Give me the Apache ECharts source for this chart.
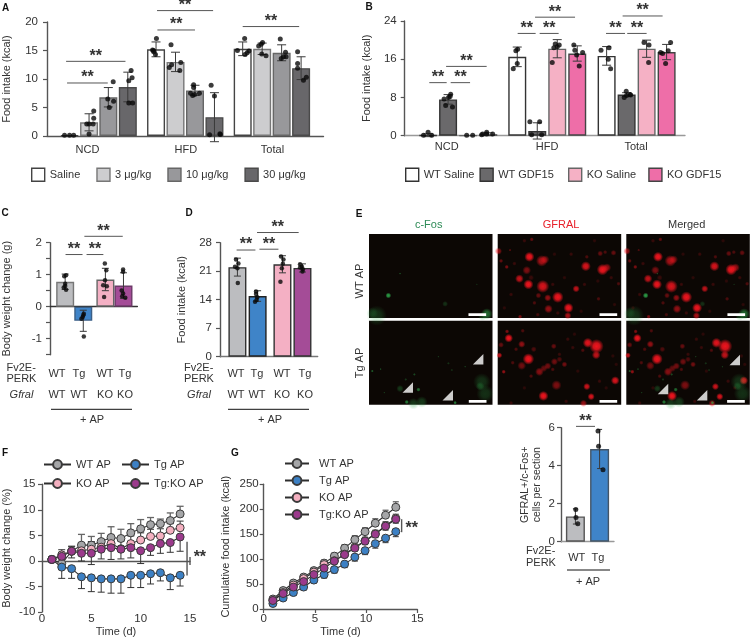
<!DOCTYPE html>
<html><head><meta charset="utf-8"><style>html,body{margin:0;background:#fff}#c{width:750px;height:638px}</style>
<script src="https://cdn.jsdelivr.net/npm/echarts@6/dist/echarts.min.js"></script></head>
<body><div id="c"></div>
<script>
// ---------- Panel A ----------
const aGroups=['NCD','HFD','Total'];
const aNames=['Saline','3 μg/kg','10 μg/kg','30 μg/kg'];
const aMeans=[[0.1,15.2,15.3],[2.4,13,15.3],[6.8,8,14.6],[8.6,3.3,11.9]];
const aSds=[[0,1.3,1.2],[1.5,1.7,1.0],[1.7,0.9,1.4],[2.6,4.3,2]];
const aDots=[
 [[[-.26,.15],[0,.15],[.21,.15]],[[.02,17.1],[-.18,15.1],[-.12,14.8],[-.03,14.3],[-.13,15]],[[.1,17.1],[-.27,15],[.32,14.9],[.23,14.6],[.12,14.3]]],
 [[[.24,4.4],[.24,3.1],[.21,2.1],[-.12,2.1],[0,2.1],[0,.35]],[[-.23,16],[.27,12.9],[-.2,12.5],[-.32,12],[.22,11.5]],[[.02,16.4],[-.05,16.1],[-.18,15.8],[-.02,14.4],[.2,14.1]]],
 [[[.25,9.5],[-.03,6.5],[.27,6.1],[.05,5]],[[-.07,9],[-.07,8.5],[.23,7.5],[-.23,7.5],[-.12,7.1],[-.02,7.3]],[[-.07,17],[.2,14.7],[.1,13.9],[-.02,13.6],[.23,13.9]]],
 [[[.17,11.5],[.22,10.2],[.05,9.7],[.05,5.8],[.25,5.8]],[[-.17,8.9],[0,7],[-.25,.2],[.28,.4],[.3,.25]],[[-.18,14.8],[-.18,12.7],[-.18,11.9],[.27,10.3],[.12,9.8]]]
];
const aBrackets=[[.98,4.03,13.1],[1.03,3.12,9.3],[5.65,8.53,22],[5.67,7.6,18.6],[10.05,12.95,19.2]];
// ---------- Panel B ----------
const bGroups=['NCD','HFD','Total'];
const bNames=['WT Saline','WT GDF15','KO Saline','KO GDF15'];
const bMeans=[[.1,16.5,16.7],[7.6,1,8.6],[.05,18.2,18.2],[.3,17.2,17.5]];
const bSds=[[.3,2.05,1.95],[1,1.7,.4],[0,1.9,1.8],[.3,1.6,1.6]];
const bDots=[
 [[[0,.7],[-.23,.1],[.18,.1]],[[.02,18.1],[-.07,17.8],[0,15.1],[-.2,14]],[[.12,18.4],[-.28,17.9],[.08,16],[.2,14]]],
 [[[.13,8.65],[.1,8.2],[-.2,7.7],[.02,8],[-.12,6.3],[.22,6]],[[-.37,2.9],[.12,2.9],[-.28,.2],[.22,.2]],[[-.02,9.3],[.17,8.6],[0,8.4],[-.12,8],[.2,8.5]]],
 [[[-.07,.1],[.23,.1]],[[-.1,19.2],[.1,19],[-.17,18.4],[0,18.6],[-.25,15.3]],[[-.13,19.5],[.12,19],[.1,15.3]]],
 [[[-.08,.7],[-.28,.35],[.22,.35],[-.08,.35],[-.33,.2]],[[-.17,19],[-.12,17.9],[.27,17.4],[-.03,16.9],[.1,14.6]],[[.2,19.5],[-.3,17.4],[-.2,17.2],[.08,17.8],[-.05,15.1]]]
];
const bBrackets=[[1.23,2.1,11.1],[2.3,3.27,11.1],[2.07,4.1,14.5],[5.65,6.55,21.4],[6.75,7.7,21.4],[6.52,8.52,24.8],[10.07,11.02,21.4],[11.13,12.1,21.4],[10.9,12.9,25.05]];
// ---------- Panel C ----------
const cMeans=[.78,-.44,.85,.66];
const cSds=[.24,.33,.35,.4];
const cDots=[
 [[.05,.98],[-.05,.95],[0,.72],[.05,.53],[-.08,.6],[0,.65]],
 [[.03,-.22],[-.03,-.32],[0,-.27],[-.1,-.38],[.03,-.93]],
 [[-.03,1.35],[.05,1.14],[-.02,.83],[-.12,.67],[.08,.64],[-.07,.3]],
 [[-.02,1.16],[-.02,1.09],[-.1,.51],[-.02,.41],[.1,.28],[-.07,.33]]
];
const cBrackets=[[.85,1.78,1.63],[2,2.92,1.63],[1.88,3.98,2.2]];
// ---------- Panel D ----------
const dMeans=[22,14.9,22.7,21.8];
const dSds=[2.2,1.3,2.1,1];
const dDots=[
 [[-.07,23.9],[.05,22.9],[-.12,22.1],[0,21.7],[.02,18.1]],
 [[-.08,16],[-.08,15.4],[-.02,14.6],[-.13,13.5],[-.05,13.9]],
 [[-.07,24.6],[.05,23.9],[.02,22.8],[-.03,21.7],[-.1,18.4]],
 [[-.12,22.7],[-.03,22.1],[.02,21.5],[0,20.9],[-.12,21.9]]
];
const dBrackets=[[.83,1.77,26.2],[1.97,2.92,26.4],[1.85,3.93,30.5]];
// ---------- Panel E bar ----------
const eMeans=[1.33,4.88];
const eSds=[.4,1.03];
const eDots=[[[.02,1.7],[.03,1.28],[.12,.95]],[[-.08,5.82],[-.05,5.02],[.17,3.79]]];
const eBrackets=[[.75,1.7,6.07]];
// ---------- Panel E micrographs (x,y,size,alpha) ----------
const redRow1=[[95,68,7,1],[132,80,8,.7],[142,76,6,.5],[87,108,6,.5],[65,133,6,.8],[92,150,7,1],[135,156,9,.9],[180,188,8,1],[212,220,7,1],[210,243,5,.7],[152,223,6,.6],[150,190,5,.6],[122,183,4,.4],[264,96,7,.9],[314,106,8,1],[327,100,6,.6],[235,163,5,.8],[347,56,4,.4],[307,58,4,.4],[322,54,3,.3],[2,51,5,.6],[27,98,3,.5],[10,80,3,.4],[102,16,3,.4],[267,68,3,.3],[302,193,3,.3],[362,148,3,.3],[67,246,3,.5],[37,48,2,.3],[50,88,3,.2],[100,130,4,.2],[200,130,3,.15],[260,150,3,.2],[300,140,3,.15],[340,130,3,.2],[170,60,3,.15],[220,60,3,.2],[250,230,3,.15],[120,240,3,.25],[40,180,3,.2],[20,220,3,.15],[290,20,3,.15],[80,20,3,.2],[165,150,3,.2],[350,210,3,.15],[110,205,3,.3],[180,235,3,.2]];
const redRow2=[[33,52,6,1],[28,32,3,.5],[5,103,4,.8],[10,72,4,.4],[72,70,5,.6],[92,114,8,1],[72,134,6,.45],[18,152,3,.6],[55,85,3,.3],[108,85,4,.3],[168,76,4,.4],[270,66,7,.95],[296,76,10,1],[295,102,6,.8],[255,88,3,.3],[352,178,6,.9],[267,196,5,.85],[280,226,5,.9],[257,246,5,.6],[137,224,7,1],[176,192,7,.5],[125,152,6,.55],[138,142,5,.4],[150,135,5,.45],[170,122,5,.45],[185,115,4,.3],[200,130,4,.45],[100,165,3,.3],[45,125,3,.3],[210,55,3,.2],[225,80,3,.2],[230,40,3,.15],[75,30,3,.3],[345,105,3,.15],[355,130,3,.15],[305,180,3,.2],[325,200,3,.15],[40,245,3,.2],[80,200,3,.15],[205,240,3,.2],[165,145,3,.3],[185,100,3,.2],[240,150,3,.15]];
const greenRow1=[[58,183,4,.9],[23,243,14,.25],[10,235,8,.2],[353,238,8,.6],[340,245,6,.3],[228,208,4,.25],[93,118,1.5,.4],[323,150,1.5,.2]];
const greenRow2=[[10,150,2,.5],[35,144,1.5,.4],[136,160,2,.4],[148,205,3,.6],[110,175,2,.3],[93,202,5,.3],[113,242,3,.7],[158,242,8,.3],[133,247,8,.3],[258,244,2.5,.7],[338,182,12,.25],[348,217,12,.25],[333,195,6,.3],[238,127,2,.25],[208,107,1.5,.3],[288,137,1.5,.3],[248,147,2,.2],[46,214,1.5,.3]];
const arrowsRow2=[[116,199],[236,222],[327,115]];
const arrowsMerged=[[110,203],[227,222],[325,117]];
// ---------- Panel F ----------
const lineNames=['WT AP','Tg AP','KO AP','Tg:KO AP'];
const fDays=[1,2,3,4,5,6,7,8,9,10,11,12,13,14];
const fWT=[.3,-.5,1.9,3.1,3.1,3.8,4.6,4.4,5.5,6.3,7.1,7.3,7.9,9.2];
const fTg=[.3,-1.2,-1.5,-3.1,-3.3,-3.5,-3.5,-3.5,-2.8,-2.8,-2.5,-2.3,-3.3,-2.8];
const fKO=[.3,1.2,1.9,2,2.3,2.7,3.4,2.4,3.4,4.1,4.8,4.9,6,6.5];
const fTgKO=[.3,.9,1.9,1.5,1.5,2.3,2.6,2.3,2.6,2,2.6,3.4,3.6,4.7];
const fWTsd=[0,.9,.9,2.1,1.7,1.6,2.1,1.8,1.8,1.8,1.4,.9,1.5,1.5];
const fTgSd=[0,2.2,1.9,2.3,2.7,2.6,2.8,2.8,2.4,2.4,2,1.6,2.3,2.1];
const fKOsd=[0,1,1,1.5,1.5,1.5,1.5,1.5,1.5,1.4,1.4,1.4,1.3,1.3];
const fTgKOsd=[0,1,1.3,1.5,2.2,1.9,2.3,1.9,2,2.5,1.5,1.9,1.9,2.8];
// ---------- Panel G ----------
const gDays=[.9,1.9,2.9,3.9,4.9,5.9,6.9,7.9,8.9,9.9,10.9,11.9,12.9];
const gWT=[20,37,52,64,77,92,106,122,139,155,172,188,204];
const gTg=[11,22,33,44,58,69,79,90,104,117,131,142,155];
const gKO=[17,33,48,61,74,89,97,110,124,137,151,167,182];
const gTgKO=[17,31,44,55,69,82,96,109,122,136,150,166,180];
const gWTsd=[3,4,5,5,5,6,6,7,8,8,9,10,11];
const gTgSd=[5,5,6,6,6,7,7,7,8,8,9,9,10];
const gKOsd=[3,4,4,5,5,5,5,6,6,7,7,8,8];
const gTgKOsd=[3,4,4,5,5,5,6,6,6,7,7,8,8];
// ---------- Colours / fonts ----------
const FONT='"Liberation Sans",Arial,sans-serif';
const INK='#333', AX='#555';
const lineColors=['#a5a6a8','#3c80c4','#f4b0c0','#9b3a8c'];
const STAR='bold 16px '+FONT;

const opt={animation:false,textStyle:{fontFamily:FONT,color:INK},grid:[],xAxis:[],yAxis:[],series:[],legend:[],graphic:[]};
function addGrid(g){opt.grid.push({left:g.left,top:g.top,width:g.width,height:g.height,containLabel:false,show:!!g.bg,backgroundColor:g.bg||'transparent',borderWidth:0});return opt.grid.length-1;}
function yAx(i,c){const o={gridIndex:i,type:'value',min:c.min,max:c.max,interval:c.interval,splitLine:{show:false},
  name:c.name,nameLocation:'middle',nameGap:c.nameGap,nameRotate:90,nameTextStyle:{color:INK,fontSize:c.nameSize||11,fontFamily:FONT,lineHeight:12},
  axisLine:{show:true,onZero:false,lineStyle:{color:AX,width:1.4}},axisTick:{show:true,length:4,lineStyle:{color:AX,width:1.2}},
  axisLabel:{color:INK,fontSize:11.5,margin:c.margin,fontFamily:FONT,formatter:c.fmt||(v=>String(v))}};
  opt.yAxis.push(o);return opt.yAxis.length-1;}

function errSeries(i,ax,data,cfg){cfg=cfg||{};opt.series.push({type:'custom',name:'err',xAxisIndex:ax,yAxisIndex:ax,clip:false,z:cfg.z||3,silent:true,data,
 renderItem(p,api){const x=api.value(0),a=api.coord([x,api.value(1)]),b=api.coord([x,api.value(2)]),w=(cfg.cap||9)/2,st={stroke:cfg.color||'#333',lineWidth:cfg.lw||1,fill:null};
  const kids=[{type:'line',shape:{x1:a[0],y1:a[1],x2:b[0],y2:b[1]},style:st},{type:'line',shape:{x1:b[0]-w,y1:b[1],x2:b[0]+w,y2:b[1]},style:st}];
  if(!cfg.oneSided)kids.push({type:'line',shape:{x1:a[0]-w,y1:a[1],x2:a[0]+w,y2:a[1]},style:st});
  return {type:'group',children:kids};}});}
function bracketSeries(ax,data,color){opt.series.push({type:'custom',name:'bracket',xAxisIndex:ax,yAxisIndex:ax,clip:false,z:5,silent:true,data,
 renderItem(p,api){const a=api.coord([api.value(0),api.value(2)]),b=api.coord([api.value(1),api.value(2)]);
  return {type:'group',children:[{type:'line',shape:{x1:a[0],y1:a[1],x2:b[0],y2:b[1]},style:{stroke:color||'#555',lineWidth:1,fill:null}},
   {type:'text',style:{text:'**',x:(a[0]+b[0])/2,y:a[1]-5,textAlign:'center',textVerticalAlign:'middle',font:STAR,fill:INK}}]};}});}
function sigSeries(ax,segs,star){opt.series.push({type:'custom',name:'sig',xAxisIndex:ax,yAxisIndex:ax,clip:false,z:5,silent:true,data:segs,
 renderItem(p,api){const a=api.coord([api.value(0),api.value(1)]),b=api.coord([api.value(2),api.value(3)]);
  return {type:'line',shape:{x1:a[0],y1:a[1],x2:b[0],y2:b[1]},style:{stroke:'#555',lineWidth:1.4,fill:null}};}});
 opt.series.push({type:'custom',name:'sigStar',xAxisIndex:ax,yAxisIndex:ax,clip:false,z:5,silent:true,data:[star],
 renderItem(p,api){const a=api.coord([api.value(0),api.value(1)]);
  return {type:'text',style:{text:'**',x:a[0],y:a[1]+3,textAlign:'center',textVerticalAlign:'middle',font:STAR,fill:INK}};}});}

function barPanel(c){
 const i=addGrid(c.g),ax=opt.xAxis.length;
 opt.xAxis.push({gridIndex:i,type:'value',min:0,max:c.xMax,splitLine:{show:false},axisTick:{show:false},
  axisLine:{show:true,onZero:true,lineStyle:{color:c.baseColor||AX,width:1.4}},
  axisLabel:c.labels?{show:true,customValues:c.labelPos,margin:c.labelMargin,fontSize:11,color:INK,fontFamily:FONT,
   formatter:v=>{const k=c.labelPos.indexOf(v);return k>=0?c.labels[k]:'';}}:{show:false}});
 yAx(i,c.y);
 const errs=[],dots=[];
 c.names.forEach((n,s)=>{
  opt.series.push({type:'bar',name:n,xAxisIndex:ax,yAxisIndex:ax,barWidth:c.barW||18,barGap:'-100%',z:2,
   itemStyle:{color:c.colors[s],borderColor:c.borders[s],borderWidth:1.4},
   data:c.slots[s].map((x,j)=>[x,c.means[s][j]])});
  c.slots[s].forEach((x,j)=>{const m=c.means[s][j],sd=c.sds[s][j];if(sd>0)errs.push([x,m-sd,m+sd]);
    c.dots[s][j].forEach(d=>dots.push([x+d[0],d[1]]));});
 });
 errSeries(i,ax,errs,{cap:c.cap||9,color:'#3a3a3a'});
 opt.series.push({type:'scatter',name:'dots',xAxisIndex:ax,yAxisIndex:ax,data:dots,symbolSize:c.dot||5,clip:false,z:4,silent:true,itemStyle:{color:'#0a0a0a'}});
 bracketSeries(ax,c.brackets);
 return ax;
}
const wrap=a=>a.map(v=>[v]);
// A
barPanel({g:{left:39.5,top:22,width:284,height:114},xMax:14.2,
 slots:[[1.16,5.6,10.05],[2.16,6.6,11.05],[3.15,7.6,12.05],[4.15,8.6,13.05]],
 labels:aGroups,labelPos:[2.08,7.13,11.58],labelMargin:8,names:aNames,means:aMeans,sds:aSds,dots:aDots,brackets:aBrackets,
 colors:['#ffffff','#cdcdcf','#98989b','#68676a'],borders:['#444','#777','#666','#4a4a4a'],
 y:{min:0,max:20,interval:5,name:'Food intake (kcal)',nameGap:34,margin:9}});
// B
barPanel({g:{left:404.7,top:21,width:280.3,height:114.7},xMax:14.02,
 slots:[[1.17,5.63,10.1],[2.17,6.63,11.1],[3.17,7.63,12.1],[4.18,8.63,13.1]],
 labels:bGroups,labelPos:[2.1,7.12,11.57],labelMargin:6,names:bNames,means:bMeans,sds:bSds,dots:bDots,brackets:bBrackets,baseColor:'#999',
 colors:['#ffffff','#6a696b','#f5b1c5','#ee6ea8'],borders:['#333','#333','#666','#444'],
 y:{min:0,max:24,interval:8,name:'Food intake (kcal)',nameGap:32,margin:8}});
// C
barPanel({g:{left:41.7,top:242.7,width:95.67,height:112},xMax:4.78,
 slots:[[.83],[1.82],[3.03],[4.02]],names:['WT/WT','Tg/WT','WT/KO','Tg/KO'],means:wrap(cMeans),sds:wrap(cSds),dots:wrap(cDots),brackets:cBrackets,baseColor:'#333',cap:7,dot:4.5,
 colors:['#bcbdc0','#3f84c8','#f4b0c4','#a44c97'],borders:['#777','#3b5f86','#666','#6d3a68'],
 y:{min:-1.5,max:2,interval:.5,name:'Body weight change (g)',nameGap:37,margin:8,fmt:v=>Number.isInteger(v)?String(v):''}});
// D
barPanel({g:{left:220,top:242.7,width:97.67,height:114},xMax:4.88,
 slots:[[.87],[1.88],[3.12],[4.12]],names:['WT/WT','Tg/WT','WT/KO','Tg/KO'],means:wrap(dMeans),sds:wrap(dSds),dots:wrap(dDots),brackets:dBrackets,baseColor:'#777',cap:7,dot:4.5,
 colors:['#bcbdc0','#3f84c8','#f4b0c4','#a44c97'],borders:['#333','#222','#333','#333'],
 y:{min:0,max:28,interval:7,name:'Food intake (kcal)',nameGap:32,margin:8}});
// E bars
barPanel({g:{left:561,top:427.7,width:53,height:114},xMax:2.65,barW:19,
 slots:[[.72],[1.93]],names:['WT','Tg'],means:wrap(eMeans),sds:wrap(eSds),dots:wrap(eDots),brackets:eBrackets,baseColor:'#999',cap:5,
 colors:['#bcbdc0','#3f84c8'],borders:['#555','#445566'],
 y:{min:0,max:6,interval:2,name:'GFRAL+/c-Fos+\ncells per section',nameGap:18,nameSize:10.5,margin:6}});

// Micrographs
function soft(rgb){return {type:'radial',x:.5,y:.5,r:.5,colorStops:[{offset:0,color:`rgba(${rgb},1)`},{offset:.45,color:`rgba(${rgb},.85)`},{offset:1,color:`rgba(${rgb},0)`}]};}
function micro(left,top,reds,greens,arrows,bar){
 const i=addGrid({left,top,width:123.5,height:84,bg:'#0c0704'}),ax=opt.xAxis.length;
 opt.xAxis.push({gridIndex:i,type:'value',min:0,max:370,show:false});
 opt.yAxis.push({gridIndex:i,type:'value',min:0,max:250,inverse:true,show:false});
 const blob=(arr,rgb)=>({type:'scatter',name:'blobs',xAxisIndex:ax,yAxisIndex:ax,silent:true,z:2,
   data:arr.map(b=>({value:[b[0],b[1]],symbolSize:b[2]*1.45,itemStyle:{opacity:b[3]}})),
   itemStyle:{color:soft(rgb)}});
 if(reds)opt.series.push(blob(reds,'240,20,30'));
 if(greens)opt.series.push(blob(greens,'45,170,75'));
 opt.series.push({type:'line',name:'scale',xAxisIndex:ax,yAxisIndex:ax,silent:true,z:3,symbol:'none',lineStyle:{color:'#fff',width:2.6},data:[[bar,240],[bar+53,240]]});
 if(arrows)opt.series.push({type:'scatter',name:'arrow',xAxisIndex:ax,yAxisIndex:ax,silent:true,z:4,symbol:'path://M0 10L10 10L10 0Z',symbolSize:10.5,itemStyle:{color:'#fff'},data:arrows});
}
const colX=[369,497.7,626.3],rowY=[234,320.7];
micro(colX[0],rowY[0],null,greenRow1,null,298);
micro(colX[1],rowY[0],redRow1,null,null,305);
micro(colX[2],rowY[0],redRow1,greenRow1,null,303);
micro(colX[0],rowY[1],null,greenRow2,arrowsRow2,299);
micro(colX[1],rowY[1],redRow2,null,null,305);
micro(colX[2],rowY[1],redRow2,greenRow2,arrowsMerged,302);

// F and G line panels
function linePanel(c){
 const i=addGrid(c.g),ax=opt.xAxis.length;
 opt.xAxis.push({gridIndex:i,type:'value',min:0,max:15,interval:5,splitLine:{show:false},name:'Time (d)',nameLocation:'middle',nameGap:c.nameGapX,
  nameTextStyle:{color:INK,fontSize:11,fontFamily:FONT},
  axisLine:{show:c.bottomLine,onZero:false,lineStyle:{color:AX,width:1.4}},axisTick:{show:c.bottomLine,length:4,lineStyle:{color:AX,width:1.2}},
  axisLabel:{color:INK,fontSize:11.5,margin:c.tickMargin,fontFamily:FONT}});
 yAx(i,c.y);
 const order=[0,2,1,3];
 order.forEach(k=>{
  const dir=(k===0||k===2)?1:-1;
  errSeries(i,ax,c.days.map((d,j)=>[d,c.vals[k][j],c.vals[k][j]+dir*c.sds[k][j]]).filter(e=>e[1]!==e[2]),
    {oneSided:true,cap:c.cap,color:k===0?'#666':'#333',lw:k===0?1.3:1,z:2});
 });
 order.forEach(k=>{
  opt.series.push({type:'line',name:lineNames[k],xAxisIndex:ax,yAxisIndex:ax,z:3,symbol:'circle',symbolSize:c.sym,
   lineStyle:{color:'#2e2e2e',width:1.1},itemStyle:{color:lineColors[k],borderColor:'#3a3a3a',borderWidth:1},
   data:c.days.map((d,j)=>[d,c.vals[k][j]])});
 });
 return {i,ax};
}
const F=linePanel({g:{left:34.7,top:484.3,width:155.3,height:128.4},days:fDays,vals:[fWT,fTg,fKO,fTgKO],sds:[fWTsd,fTgSd,fKOsd,fTgKOsd],
 bottomLine:false,nameGapX:13,tickMargin:1,cap:7,sym:8,
 y:{min:-10,max:15,interval:5,name:'Body weight change (%)',nameGap:29,margin:6.5}});
sigSeries(F.ax,[[14.7,3.77,14.7,-2.86],[15,-.8,15,.8]],[16,1.3]);

const G=linePanel({g:{left:263.7,top:484.3,width:153.6,height:124.7},days:gDays,vals:[gWT,gTg,gKO,gTgKO],sds:[gWTsd,gTgSd,gKOsd,gTgKOsd],
 bottomLine:true,nameGapX:17,tickMargin:4,cap:6,sym:8,
 y:{min:0,max:250,interval:50,name:'Cumulative food intake (kcal)',nameGap:32,margin:5}});
sigSeries(G.ax,[[13.47,180,13.47,154]],[14.45,168]);
// Panel F's zero line: an extra x axis added last so x/y indices stay paired above
opt.xAxis.push({gridIndex:F.i,type:'value',position:'top',min:0,max:15,splitLine:{show:false},axisLine:{show:true,onZero:true,lineStyle:{color:AX,width:1.4}},axisTick:{show:false},axisLabel:{show:false}});

// Legends
const legendBase={selectedMode:false,padding:0,textStyle:{fontSize:11,color:INK,fontFamily:FONT}};
opt.legend.push({...legendBase,data:aNames,left:31,top:167.5,itemWidth:13,itemHeight:13,itemGap:16,icon:'rect',itemStyle:{borderWidth:1.4}});
opt.legend.push({...legendBase,data:bNames.slice(0,2),left:405,top:167.5,itemWidth:13,itemHeight:13,itemGap:5,icon:'rect',itemStyle:{borderWidth:1.4}});
opt.legend.push({...legendBase,data:bNames.slice(2),left:568,top:167.5,itemWidth:13,itemHeight:13,itemGap:12,icon:'rect',itemStyle:{borderWidth:1.4}});
opt.legend.push({...legendBase,data:[lineNames[0],lineNames[2]],orient:'vertical',left:43,top:459,itemWidth:27,itemHeight:11,itemGap:8});
opt.legend.push({...legendBase,data:[lineNames[1],lineNames[3]],orient:'vertical',left:121,top:459,itemWidth:27,itemHeight:11,itemGap:8});
opt.legend.push({...legendBase,data:lineNames,orient:'vertical',left:284,top:458,itemWidth:24,itemHeight:11,itemGap:6,textStyle:{fontSize:11,color:INK,fontFamily:FONT,padding:[0,0,0,5]}});

// Text annotations
function T(x,y,text,o){o=o||{};opt.graphic.push({type:'text',x,y,rotation:o.rot||0,z:10,silent:true,style:{text,fill:o.fill||INK,font:(o.style||'')+' '+(o.size||11)+'px '+FONT,textAlign:o.align||'center',textVerticalAlign:'middle',lineHeight:o.lh||11.5}});}
function L(x1,x2,y){opt.graphic.push({type:'line',z:10,silent:true,shape:{x1,y1:y,x2,y2:y},style:{stroke:'#111',lineWidth:1}});}
[['A',5.5,8],['B',369,7],['C',5,213],['D',189,213],['E',359,214],['F',5,453],['G',235,453]].forEach(p=>T(p[1],p[2],p[0],{style:'bold',size:10,fill:'#111'}));
const geno=['WT','Tg','WT','Tg'],gfral=['WT','WT','KO','KO'];
const cX1=[57,79,105,125],cX2=[57,79,105,125],dX=[236,257,282,305];
T(6.5,373.5,'Fv2E-\nPERK',{align:'left'});T(184,373.5,'Fv2E-\nPERK',{align:'left'});
T(21.5,395,'Gfral',{style:'italic'});T(199,395,'Gfral',{style:'italic'});
geno.forEach((t,k)=>{T(cX1[k],374,t);T(dX[k],374,t);});
gfral.forEach((t,k)=>{T(cX2[k],395,t);T(dX[k],395,t);});
L(51,132,409.3);L(228,309,409.3);T(92,420,'+ AP');T(270,420,'+ AP');
T(428.7,225,'c-Fos',{fill:'#2e8b57'});T(561,225,'GFRAL',{fill:'#e8202a'});T(686.7,225,'Merged');
T(360,281,'WT AP',{rot:Math.PI/2});T(360,363,'Tg AP',{rot:Math.PI/2});
T(526,557,'Fv2E-\nPERK',{align:'left'});T(576.7,558,'WT');T(598,558,'Tg');L(567,610,570);T(588,581.7,'+ AP');

echarts.init(document.getElementById('c'),null,{renderer:'canvas'}).setOption(opt);
</script></body></html>
